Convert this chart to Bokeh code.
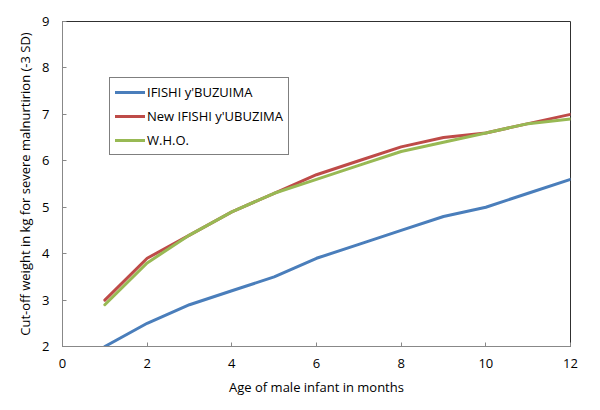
from bokeh.plotting import figure
from bokeh.models import Legend, LegendItem, FixedTicker, Range1d
from bokeh.embed import file_html
from bokeh.resources import INLINE

months = [1, 2, 3, 4, 5, 6, 7, 8, 9, 10, 11, 12]
ifishi = [2.0, 2.5, 2.9, 3.2, 3.5, 3.9, 4.2, 4.5, 4.8, 5.0, 5.3, 5.6]
new_ifishi = [3.0, 3.9, 4.4, 4.9, 5.3, 5.7, 6.0, 6.3, 6.5, 6.6, 6.8, 7.0]
who = [2.9, 3.8, 4.4, 4.9, 5.3, 5.6, 5.9, 6.2, 6.4, 6.6, 6.8, 6.9]
x_ticks = [0, 2, 4, 6, 8, 10, 12]
y_ticks = [2, 3, 4, 5, 6, 7, 8, 9]
names = ["IFISHI y'BUZUIMA", "New IFISHI y'UBUZIMA", "W.H.O."]
colors = ["#4A7EBB", "#BE4B48", "#98B954"]

FONT = "Open Sans"

p = figure(width=592, height=402, output_backend="svg", toolbar_location=None,
           x_range=Range1d(0, 12), y_range=Range1d(2, 9),
           min_border_left=62, min_border_right=22, min_border_top=21, min_border_bottom=56)
p.grid.visible = False
p.outline_line_color = "#303030"
p.outline_line_width = 1

renderers = []
for ys, c in zip([ifishi, new_ifishi, who], colors):
    r = p.line(months, ys, line_color=c, line_width=3, line_join="round", line_cap="round")
    renderers.append(r)

for ax in (p.xaxis[0], p.yaxis[0]):
    ax.axis_line_color = "#888888"
    ax.major_tick_line_color = "#888888"
    ax.major_tick_in = 4
    ax.major_tick_out = 0
    ax.minor_tick_line_color = None
    ax.major_label_text_font = FONT
    ax.major_label_text_font_size = "13px"
    ax.major_label_text_color = "#000000"
    ax.axis_label_text_font = FONT
    ax.axis_label_text_font_size = "13px"
    ax.axis_label_text_font_style = "normal"
    ax.axis_label_text_color = "#000000"

p.xaxis.ticker = FixedTicker(ticks=x_ticks)
p.yaxis.ticker = FixedTicker(ticks=y_ticks)
p.xaxis.axis_label = "Age of male infant in months"
p.yaxis.axis_label = "Cut-off weight in kg for severe malnurtirion (-3 SD)"
p.xaxis.major_label_standoff = 12
p.yaxis.major_label_standoff = 13
p.xaxis.axis_label_standoff = 7
p.yaxis.axis_label_standoff = 5

legend = Legend(items=[LegendItem(label=n, renderers=[r]) for n, r in zip(names, renderers)],
                location=(47, 191))
legend.border_line_color = "#000000"
legend.border_line_width = 1
legend.background_fill_alpha = 1
legend.label_text_font = FONT
legend.label_text_font_size = "13px"
legend.label_text_color = "#000000"
legend.glyph_width = 30
legend.glyph_height = 16
legend.label_standoff = 2
legend.spacing = 6
legend.padding = 5
legend.margin = 0
p.add_layout(legend, "center")

open("out.html", "w").write(file_html(p, INLINE))
